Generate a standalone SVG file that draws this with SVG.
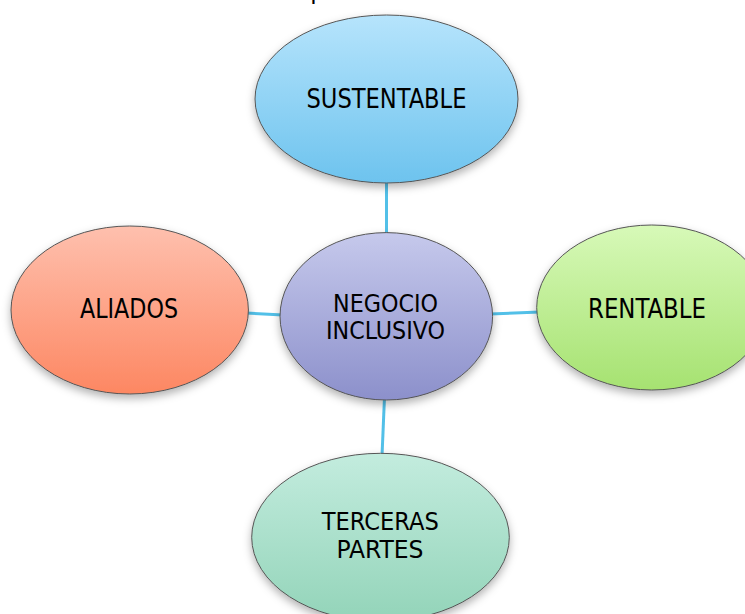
<svg xmlns="http://www.w3.org/2000/svg" width="745" height="614" viewBox="0 0 745 614">
<style>
  text { font-family: "DejaVu Sans Condensed", "DejaVu Sans", sans-serif; font-size: 26px; fill: #000; }
  .two { font-size: 25px; }
  .node ellipse { stroke: #555; stroke-width: 1; filter: url(#sh); }
  .conn line { stroke: #52C0E8; stroke-width: 3; stroke-linecap: butt; }
</style>
<defs>
  <filter id="sh" x="-20%" y="-20%" width="140%" height="150%">
    <feDropShadow dx="0" dy="4" stdDeviation="4" flood-color="#000" flood-opacity="0.3"/>
  </filter>
  <linearGradient id="gBlue" x1="0" y1="0" x2="0" y2="1"><stop offset="0" stop-color="#B6E4FC"/><stop offset="1" stop-color="#6DC3EE"/></linearGradient>
  <linearGradient id="gPurple" x1="0" y1="0" x2="0" y2="1"><stop offset="0" stop-color="#C6C9EC"/><stop offset="1" stop-color="#8C90CB"/></linearGradient>
  <linearGradient id="gSalmon" x1="0" y1="0" x2="0" y2="1"><stop offset="0" stop-color="#FEC0AE"/><stop offset="1" stop-color="#FD8762"/></linearGradient>
  <linearGradient id="gGreen" x1="0" y1="0" x2="0" y2="1"><stop offset="0" stop-color="#D7F9B8"/><stop offset="1" stop-color="#A6E271"/></linearGradient>
  <linearGradient id="gTeal" x1="0" y1="0" x2="0" y2="1"><stop offset="0" stop-color="#C3ECDE"/><stop offset="1" stop-color="#93D4B9"/></linearGradient>
</defs>
<rect width="745" height="614" fill="#fff"/>
<text x="310.3" y="-2.2" font-size="27">p</text>
<g id="connectors" class="conn">
  <line x1="386.5" y1="180" x2="386.5" y2="236"/>
  <line x1="246" y1="313" x2="283" y2="315"/>
  <line x1="490" y1="314" x2="540" y2="312"/>
  <line x1="384.5" y1="397" x2="382" y2="456"/>
</g>
<g id="sustentable" class="node">
  <ellipse cx="386.5" cy="99" rx="131.5" ry="84" fill="url(#gBlue)"/>
  <text x="386.5" y="107.5" text-anchor="middle" textLength="160" lengthAdjust="spacingAndGlyphs">SUSTENTABLE</text>
</g>
<g id="negocio" class="node">
  <ellipse cx="386.3" cy="316.3" rx="106.3" ry="83.7" fill="url(#gPurple)"/>
  <text class="two" x="385.5" y="312" text-anchor="middle" textLength="105" lengthAdjust="spacingAndGlyphs">NEGOCIO</text>
  <text class="two" x="385.5" y="339" text-anchor="middle" textLength="119" lengthAdjust="spacingAndGlyphs">INCLUSIVO</text>
</g>
<g id="aliados" class="node">
  <ellipse cx="129.7" cy="310" rx="118.7" ry="84" fill="url(#gSalmon)"/>
  <text x="129" y="317.5" text-anchor="middle" textLength="98" lengthAdjust="spacingAndGlyphs">ALIADOS</text>
</g>
<g id="rentable" class="node">
  <ellipse cx="651.7" cy="307.5" rx="115" ry="82.5" fill="url(#gGreen)"/>
  <text x="647" y="317.5" text-anchor="middle" textLength="118" lengthAdjust="spacingAndGlyphs">RENTABLE</text>
</g>
<g id="terceras" class="node">
  <ellipse cx="380.5" cy="537.3" rx="128.8" ry="84" fill="url(#gTeal)"/>
  <text class="two" x="380.3" y="530" text-anchor="middle" textLength="117" lengthAdjust="spacingAndGlyphs">TERCERAS</text>
  <text class="two" x="380" y="558.3" text-anchor="middle" textLength="87" lengthAdjust="spacingAndGlyphs">PARTES</text>
</g>
</svg>
